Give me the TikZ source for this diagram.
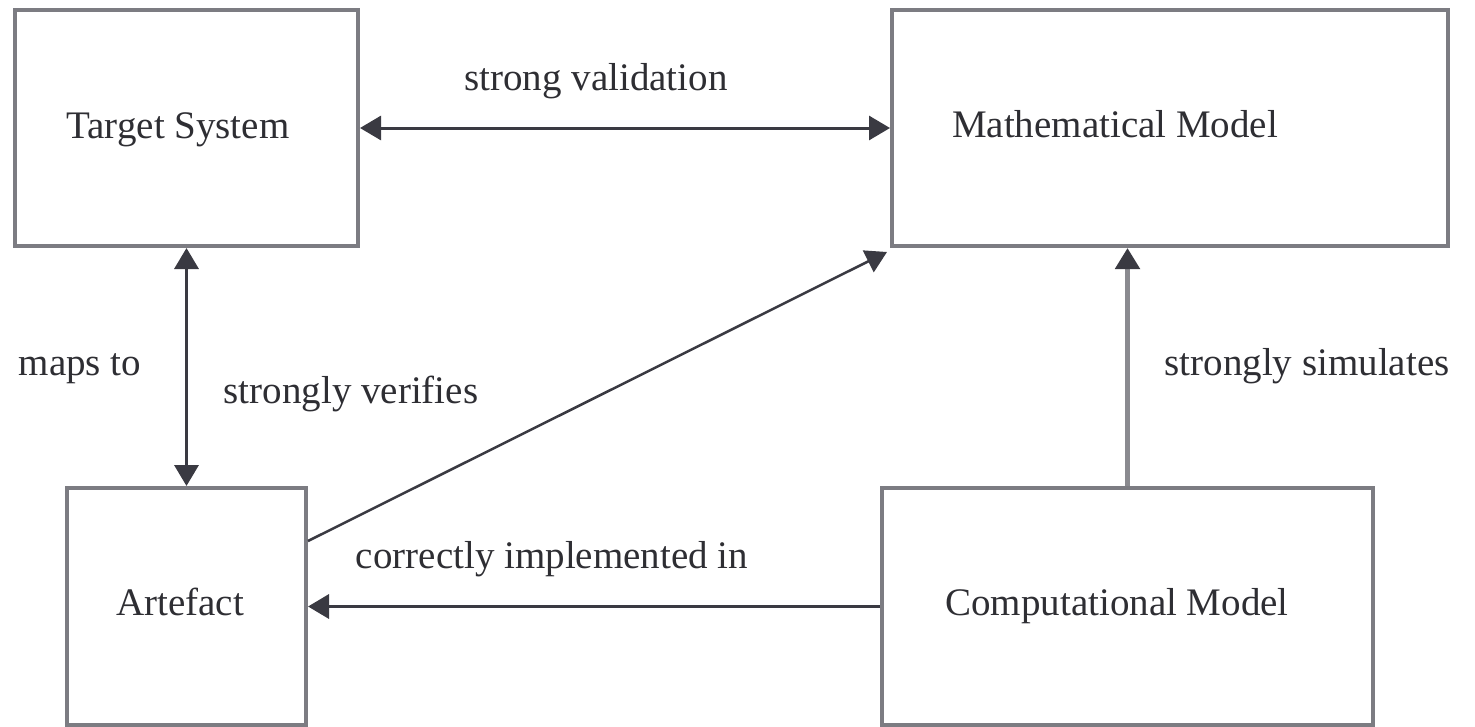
\documentclass[tikz,border=0pt]{standalone}
\usepackage{fontspec}
\setmainfont{Liberation Serif}
\usetikzlibrary{arrows.meta,calc}
\definecolor{boxgray}{HTML}{7C7C82}
\definecolor{darkline}{HTML}{3A3A42}
\definecolor{simgray}{HTML}{8A8A8F}
\definecolor{txt}{HTML}{2E2E33}
\begin{document}
\begin{tikzpicture}[x=1pt,y=-1pt,
  box/.style={draw=boxgray,line width=4pt,rectangle,inner sep=0pt},
  lbl/.style={anchor=base,text=txt,font=\fontsize{39}{44}\selectfont,inner sep=0pt},
  tip/.style={-{Triangle[length=21pt,width=24pt]}},
  dtip/.style={{Triangle[length=21pt,width=24pt]}-{Triangle[length=21pt,width=24pt]}},
  conn/.style={draw=darkline,line width=3.5pt}
]
\useasboundingbox[fill=white] (0,0) rectangle (1475,726);
% boxes
\node[box,minimum width=343pt,minimum height=236pt] (T) at (186.5,128) {};
\node[box,minimum width=556pt,minimum height=236pt] (M) at (1170,128) {};
\node[box,minimum width=239pt,minimum height=237pt] (A) at (186.5,606.5) {};
\node[box,minimum width=491pt,minimum height=237pt] (C) at (1127.5,606.5) {};
% box texts
\node[lbl] (tT) at (178,138) {Target System};
\node[lbl] (tM) at (1115,137) {Mathematical Model};
\node[lbl] (tA) at (180,615) {Artefact};
\node[lbl] (tC) at (1117,615) {Computational Model};
% connectors
\draw[conn,line width=3pt,dtip] (T.east) -- (M.west);
\draw[conn,dtip] (T.south) -- (A.north);
\coordinate (dstart) at ($(A.north east)+(0,55)$);
\coordinate (dend) at ($(M.south west)+(-3,4)$);
\draw[conn,line width=2.5pt,tip] (dstart) -- (dend);
\draw[conn,tip] (C.west) -- (A.east);
\draw[draw=simgray,line width=5pt,-{Triangle[length=21pt,width=24pt,color=darkline]}] (C.north) -- (M.south -| C.north);
% connector labels
\node[lbl] (l1) at (596,90) {strong validation};
\node[lbl] (l2) at (80,375) {maps to};
\node[lbl] (l3) at (351,403) {strongly verifies};
\node[lbl] (l4) at (552,568) {correctly implemented in};
\node[lbl] (l5) at (1307,375) {strongly simulates};
\end{tikzpicture}
\end{document}
